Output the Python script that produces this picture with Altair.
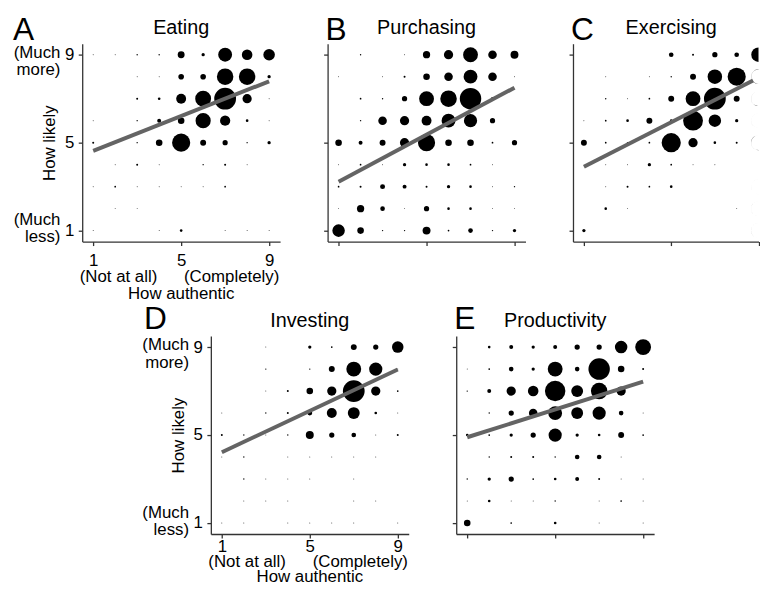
import math
import altair as alt
import pandas as pd

FONT = "Liberation Sans"

AUTHENTIC = [1, 2, 3, 4, 5, 6, 7, 8, 9]
LIKELY = [9, 8, 7, 6, 5, 4, 3, 2, 1]
TICKS = [1, 5, 9]

# estimated cell weights, rows = how likely 9..1, columns = how authentic 1..9
EATING = [
    [1, 1, 2, 2, 49, 11, 196, 114, 136],
    [0, 0, 1, 1, 32, 32, 278, 278, 11],
    [0, 0, 4, 7, 100, 256, 484, 87, 1],
    [1, 0, 2, 16, 44, 235, 107, 7, 1],
    [4, 0, 2, 44, 336, 36, 28, 2, 11],
    [0, 1, 4, 1, 0, 2, 4, 1, 0],
    [1, 3, 1, 1, 1, 1, 3, 0, 0],
    [0, 1, 1, 0, 0, 0, 0, 0, 0],
    [1, 0, 0, 1, 7, 0, 1, 1, 1],
]
PURCHASING = [
    [0, 2, 0, 1, 54, 87, 225, 75, 64],
    [1, 0, 1, 4, 44, 75, 196, 75, 1],
    [0, 3, 2, 28, 225, 278, 469, 11, 0],
    [0, 2, 75, 87, 100, 196, 178, 28, 0],
    [44, 16, 36, 87, 300, 44, 44, 3, 28],
    [1, 3, 1, 11, 7, 7, 3, 1, 0],
    [3, 4, 25, 16, 4, 11, 7, 1, 2],
    [1, 54, 22, 1, 28, 7, 7, 1, 1],
    [160, 44, 2, 2, 64, 3, 22, 2, 11],
]
EXERCISING = [
    [0, 0, 0, 0, 22, 4, 28, 22, 215],
    [0, 1, 0, 1, 2, 36, 215, 336, 7],
    [0, 2, 1, 3, 36, 225, 484, 36, 3],
    [1, 3, 7, 36, 7, 400, 160, 11, 1],
    [36, 3, 2, 3, 374, 87, 7, 4, 3],
    [0, 1, 1, 11, 3, 1, 1, 0, 0],
    [0, 1, 4, 3, 7, 0, 0, 0, 1],
    [0, 7, 1, 0, 0, 0, 0, 1, 1],
    [11, 0, 0, 0, 0, 0, 0, 0, 2],
]
INVESTING = [
    [0, 0, 1, 0, 11, 3, 36, 28, 136],
    [0, 0, 2, 0, 2, 36, 225, 178, 1],
    [0, 0, 1, 4, 44, 87, 484, 87, 3],
    [1, 0, 2, 4, 25, 100, 144, 7, 1],
    [4, 2, 1, 2, 64, 28, 22, 1, 4],
    [1, 2, 0, 1, 1, 1, 1, 1, 0],
    [0, 2, 1, 1, 1, 0, 1, 0, 0],
    [0, 1, 1, 1, 0, 0, 1, 1, 0],
    [1, 1, 0, 1, 1, 1, 1, 0, 1],
]
PRODUCTIVITY = [
    [0, 7, 16, 11, 16, 28, 28, 160, 256],
    [1, 3, 22, 11, 225, 22, 469, 44, 4],
    [2, 16, 87, 114, 427, 144, 278, 87, 0],
    [0, 2, 28, 75, 196, 144, 178, 22, 1],
    [7, 3, 11, 28, 178, 11, 7, 36, 3],
    [0, 2, 4, 4, 2, 22, 22, 1, 0],
    [2, 11, 28, 3, 7, 16, 4, 1, 1],
    [1, 7, 1, 1, 2, 0, 1, 3, 1],
    [44, 0, 3, 0, 7, 0, 1, 0, 1],
]

# fitted lines: end points
EATING_LINE = ([1, 9], [4.63, 7.79])
PURCHASING_LINE = ([1, 9], [3.22, 7.5])
EXERCISING_LINE = ([1, 8.75], [3.9, 7.83])   # runs towards the cut right edge
INVESTING_LINE = ([1, 9], [4.22, 7.98])
PRODUCTIVITY_LINE = ([1, 9], [4.9, 7.43])

PLOT = 200   # plot square side
TOP = 33     # room above the plot for panel letter and name
MAX_N = 500


def grid_frame(grid):
    rows = []
    for i, y in enumerate(LIKELY):
        for j, x in enumerate(AUTHENTIC):
            if grid[i][j] > 0:
                rows.append({"authentic": x, "likely": y, "n": grid[i][j]})
    return pd.DataFrame(rows)


def panel(letter, name, grid, fit, labelled=False, width=PLOT, left=0, below=0,
          stack=(24, 41, 58), letter_dx=-2, letter_dy=-4, cut_col=None):
    xmax = 0.5 + width * 9.0 / PLOT if cut_col is None else float(cut_col)
    xs = alt.Scale(domain=[0.5, xmax], range=[left, left + width], nice=False, zero=False)
    ys = alt.Scale(domain=[0.5, 9.5], range=[TOP + PLOT, TOP], nice=False, zero=False)
    if labelled:
        xaxis = alt.Axis(values=TICKS, labelPadding=stack[0] - 17, format="d",
                         labelFlush=False, offset=-below)
        yaxis = alt.Axis(values=TICKS, labelPadding=4.5, titlePadding=6, format="d",
                         offset=-left)
        ytitle = "How likely"
    else:
        xaxis = alt.Axis(values=TICKS, labels=False, offset=-below)
        yaxis = alt.Axis(values=TICKS, labels=False, offset=-left)
        ytitle = None

    def X(field):
        return alt.X(field, scale=xs, axis=xaxis, title=None)

    def Y(field):
        return alt.Y(field, scale=ys, axis=yaxis, title=ytitle)

    def text_layer(label, xval, yval, dx=0, dy=0, align="left",
                   baseline="alphabetic", size=17):
        return alt.Chart(pd.DataFrame({"label": [label]})).mark_text(
            align=align, baseline=baseline, dx=dx, dy=dy, fontSize=size,
            font=FONT, color="black"
        ).encode(
            x=alt.XDatum(xval, scale=xs, axis=xaxis, title=None),
            y=alt.YDatum(yval, scale=ys, axis=yaxis, title=ytitle),
            text="label:N",
        )

    cells = grid_frame(grid)
    size = alt.Size("n:Q", scale=alt.Scale(type="linear", domain=[0, MAX_N],
                                           range=[0, MAX_N]), legend=None)
    if cut_col is None:
        whole, cut = cells, None
    else:
        whole = cells[cells["authentic"] < cut_col]
        cut = cells[cells["authentic"] == cut_col]

    layers = [alt.Chart(whole).mark_circle(color="black", opacity=1).encode(
        x=X("authentic:Q"), y=Y("likely:Q"), size=size)]
    if cut is not None and len(cut):
        # column sitting on the cut edge: only its left half is visible
        layers.append(alt.Chart(cut).mark_arc(
            color="black", opacity=1, theta=math.pi, theta2=2 * math.pi
        ).encode(
            x=X("authentic:Q"), y=Y("likely:Q"),
            radius=alt.Radius("n:Q", scale=alt.Scale(type="sqrt", domain=[0, MAX_N],
                                                     range=[0, math.sqrt(MAX_N) / 2])),
        ))
    layers.append(alt.Chart(pd.DataFrame({"authentic": fit[0], "likely": fit[1]})).mark_line(
        color="#646464", strokeWidth=4, strokeCap="butt", strokeJoin="round"
    ).encode(x=X("authentic:Q"), y=Y("likely:Q")))

    layers += [
        text_layer(name, 5, 9.5, dy=-9.5, align="center", size=20),
        text_layer(letter, 0.5, 9.5, dx=letter_dx, dy=letter_dy, size=32),
    ]
    if labelled:
        layers += [
            text_layer("(Much", 0.5, 9, dx=-22, dy=-2, align="right", baseline="middle"),
            text_layer("more)", 0.5, 9, dx=-22, dy=16, align="right", baseline="middle"),
            text_layer("(Much", 0.5, 1, dx=-22, dy=-10.5, align="right", baseline="middle"),
            text_layer("less)", 0.5, 1, dx=-22, dy=7, align="right", baseline="middle"),
            text_layer("(Not at all)", 0.5, 0.5, dx=-2.5, dy=stack[1], align="left"),
            text_layer("(Completely)", 9.5, 0.5, dx=-0.8, dy=stack[1], align="right"),
            text_layer("How authentic", 5, 0.5, dy=stack[2], align="center"),
        ]
    return alt.layer(*layers).properties(width=left + width, height=TOP + PLOT + below)


spacer = alt.Chart(pd.DataFrame({"v": [0]})).mark_point(opacity=0, size=0).encode(
    x=alt.value(41), y=alt.value(100)
).properties(width=82, height=PLOT)

top = alt.hconcat(
    panel("A", "Eating", EATING, EATING_LINE, labelled=True, left=75, below=62,
          letter_dx=-70),
    panel("B", "Purchasing", PURCHASING, PURCHASING_LINE),
    panel("C", "Exercising", EXERCISING, EXERCISING_LINE, width=187.5, cut_col=9),
    spacing=48, bounds="flush",
)
bottom = alt.hconcat(
    spacer,
    panel("D", "Investing", INVESTING, INVESTING_LINE, labelled=True, left=75,
          below=52.6, stack=(18, 33.5, 49), letter_dx=-67.5, letter_dy=-7),
    panel("E", "Productivity", PRODUCTIVITY, PRODUCTIVITY_LINE, letter_dy=-7),
    spacing=48, bounds="flush",
)

chart = alt.vconcat(top, bottom, spacing=0.5).properties(
    padding={"left": 0, "top": 0, "right": 0, "bottom": 0}
).configure_view(stroke=None).configure_axis(
    grid=False,
    domainColor="#333333", tickColor="#333333", domainWidth=1.3, tickWidth=1.3,
    tickSize=4, labelFont=FONT, titleFont=FONT, labelFontSize=17, titleFontSize=17,
    titleFontWeight="normal", labelColor="black", titleColor="black",
)

chart.save("out.html", embed_options={"renderer": "svg", "actions": False})
